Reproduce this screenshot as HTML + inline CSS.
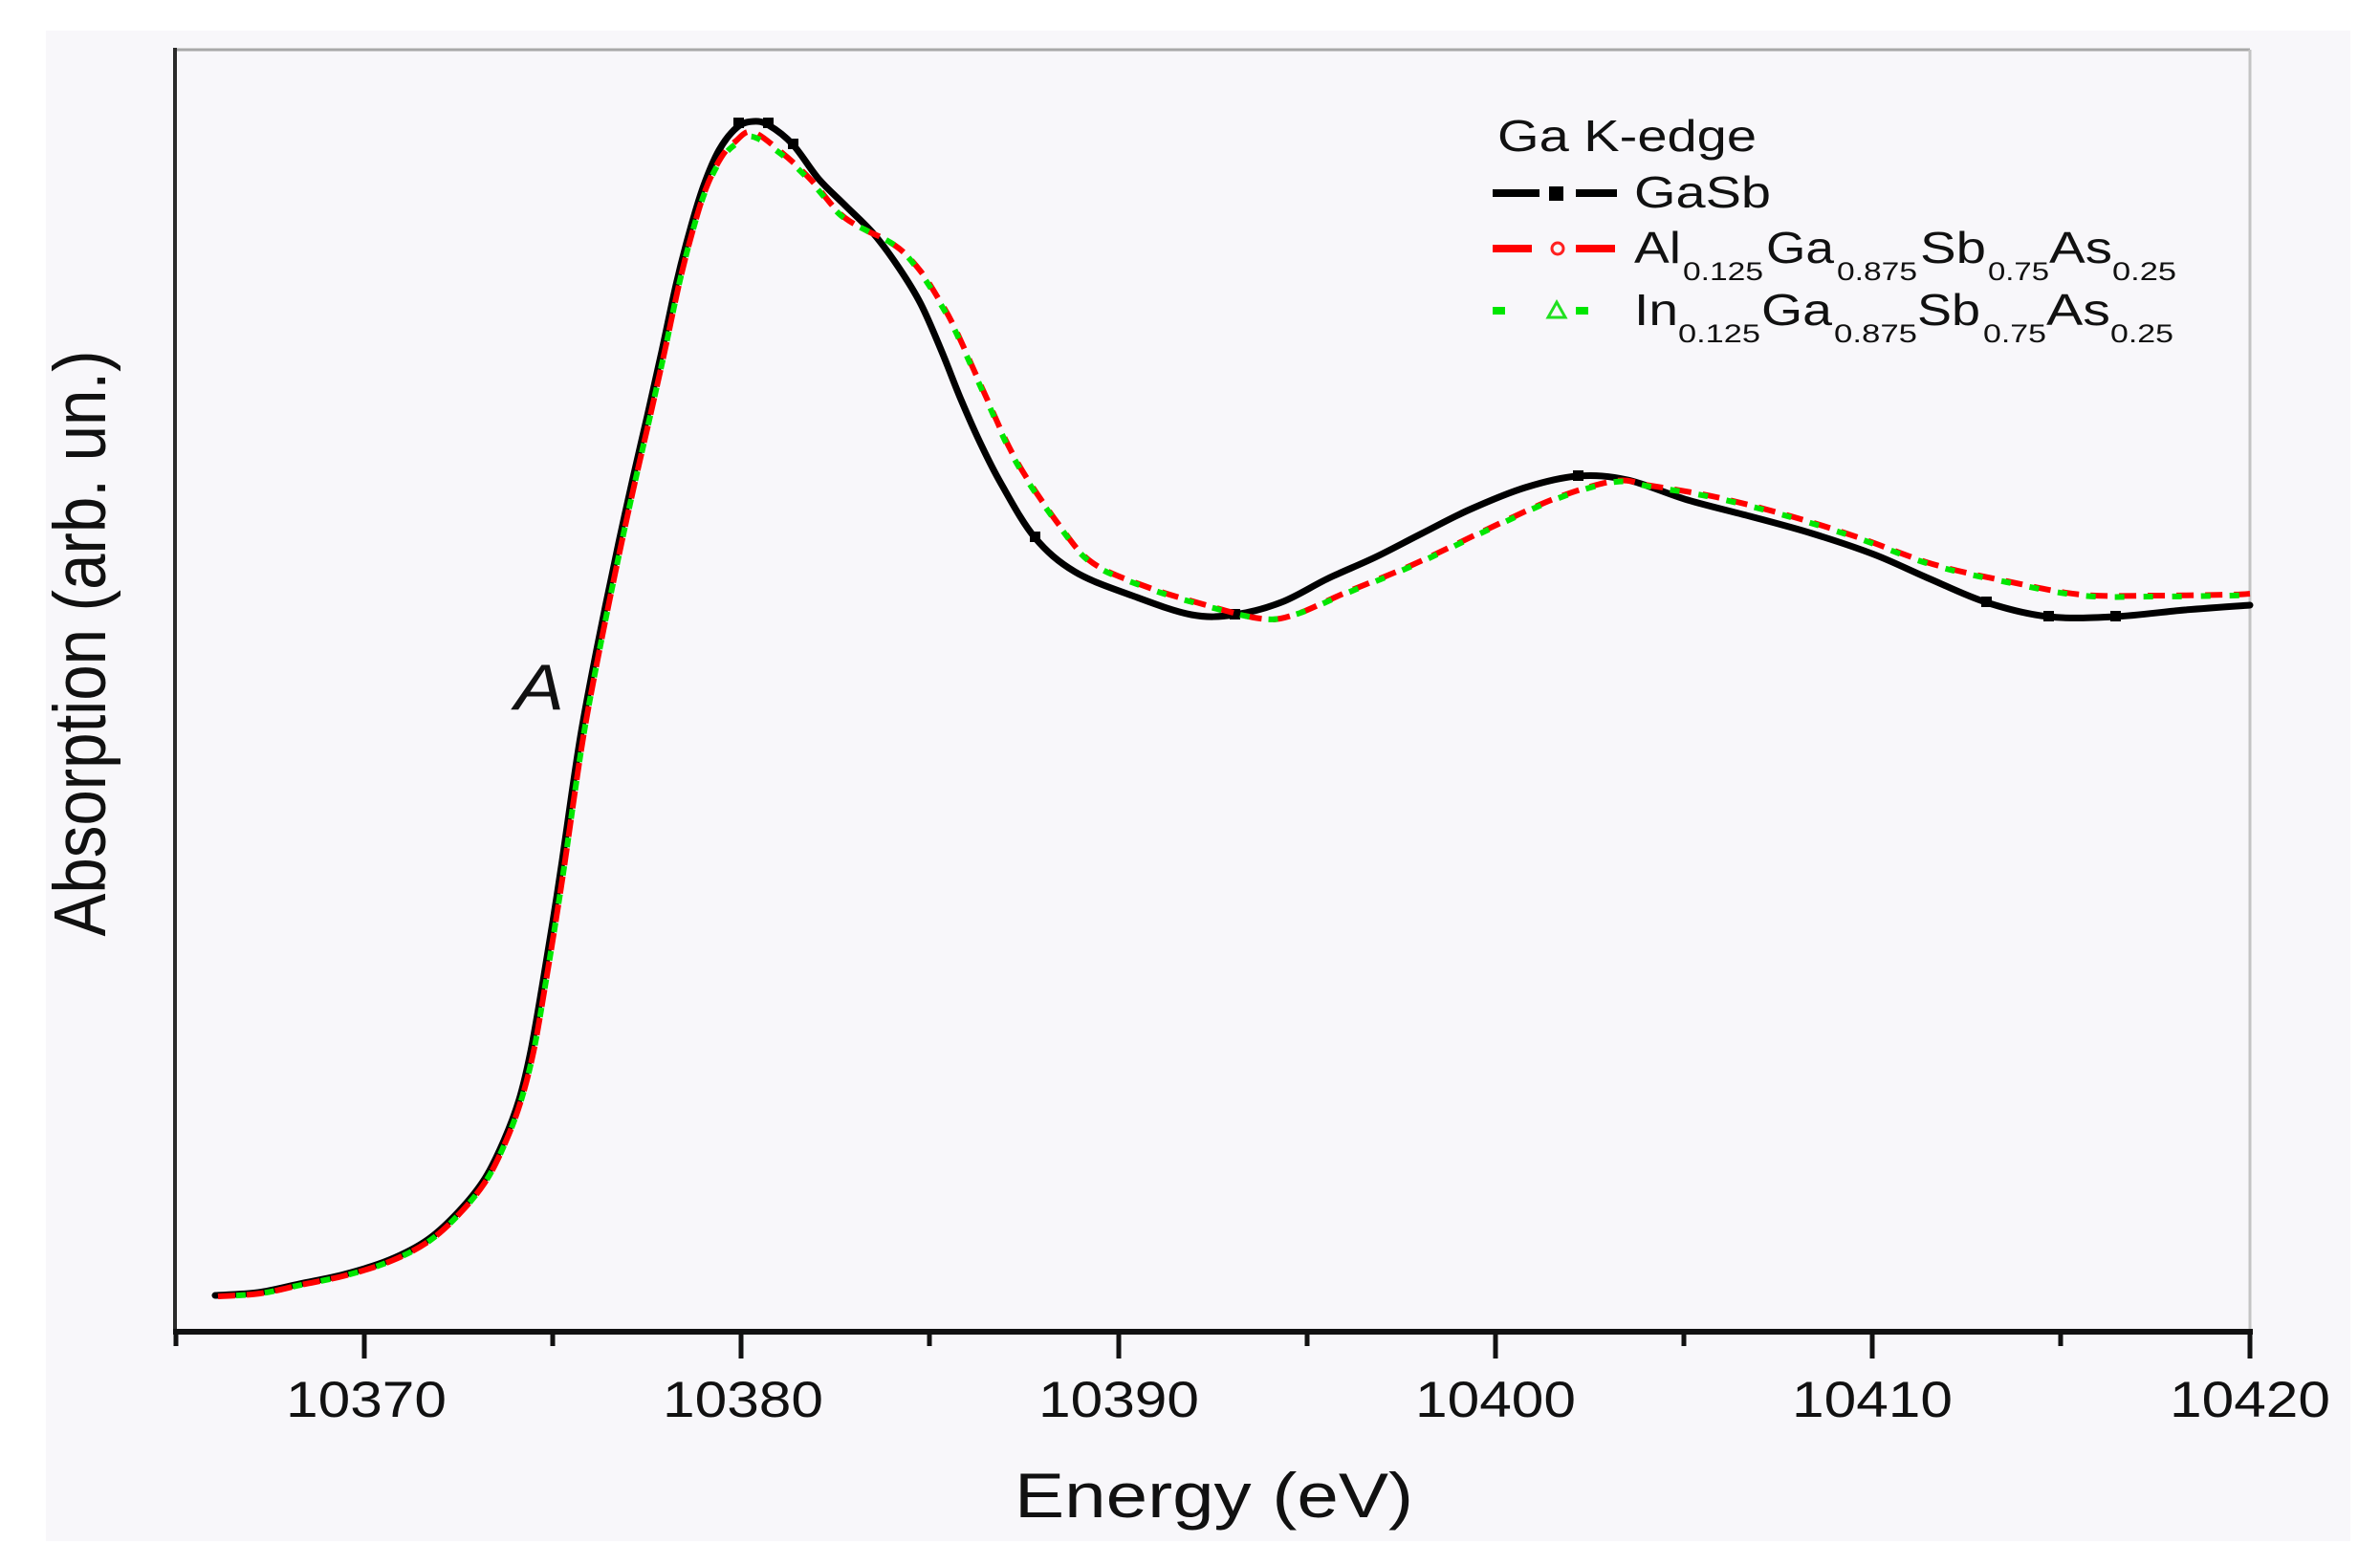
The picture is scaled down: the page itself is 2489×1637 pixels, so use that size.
<!DOCTYPE html>
<html>
<head>
<meta charset="utf-8">
<style>
  html, body { margin: 0; padding: 0; background: #ffffff; }
  body { width: 2489px; height: 1637px; overflow: hidden; }
  svg { display: block; }
  text { font-family: "Liberation Sans", Arial, sans-serif; fill: #111; }
</style>
</head>
<body>
<svg id="chart" width="2489" height="1637" viewBox="0 0 2489 1637" xmlns="http://www.w3.org/2000/svg">
  <rect x="0" y="0" width="2489" height="1637" fill="#ffffff"/>
  <rect x="48" y="32" width="2410" height="1580" fill="#f8f7fa"/>

  <!-- frame -->
  <line x1="183" y1="52" x2="2353" y2="52" stroke="#a8a8a8" stroke-width="3"/>
  <line x1="2353" y1="52" x2="2353" y2="1393" stroke="#c4c4c4" stroke-width="3"/>
  <line x1="183" y1="50" x2="183" y2="1396" stroke="#2a2a2a" stroke-width="4"/>
  <line x1="181" y1="1393" x2="2356" y2="1393" stroke="#111" stroke-width="6"/>

  <!-- major ticks -->
  <g stroke="#111" stroke-width="5">
    <line x1="381" y1="1393" x2="381" y2="1421"/>
    <line x1="775" y1="1393" x2="775" y2="1421"/>
    <line x1="1170" y1="1393" x2="1170" y2="1421"/>
    <line x1="1564" y1="1393" x2="1564" y2="1421"/>
    <line x1="1958" y1="1393" x2="1958" y2="1421"/>
    <line x1="2353" y1="1393" x2="2353" y2="1421"/>
  </g>
  <!-- minor ticks -->
  <g stroke="#111" stroke-width="5">
    <line x1="184" y1="1393" x2="184" y2="1408"/>
    <line x1="578" y1="1393" x2="578" y2="1408"/>
    <line x1="972" y1="1393" x2="972" y2="1408"/>
    <line x1="1367" y1="1393" x2="1367" y2="1408"/>
    <line x1="1761" y1="1393" x2="1761" y2="1408"/>
    <line x1="2155" y1="1393" x2="2155" y2="1408"/>
  </g>

  <!-- tick labels -->
  <g font-size="53" text-anchor="middle">
    <text x="383" y="1482" textLength="168" lengthAdjust="spacingAndGlyphs">10370</text>
    <text x="777" y="1482" textLength="168" lengthAdjust="spacingAndGlyphs">10380</text>
    <text x="1170" y="1482" textLength="168" lengthAdjust="spacingAndGlyphs">10390</text>
    <text x="1564" y="1482" textLength="168" lengthAdjust="spacingAndGlyphs">10400</text>
    <text x="1958" y="1482" textLength="168" lengthAdjust="spacingAndGlyphs">10410</text>
    <text x="2353" y="1482" textLength="168" lengthAdjust="spacingAndGlyphs">10420</text>
  </g>

  <!-- axis titles -->
  <text x="1061" y="1587" font-size="66" textLength="417" lengthAdjust="spacingAndGlyphs">Energy (eV)</text>
  <text transform="translate(110,673) scale(1.17,1) rotate(-90)" x="0" y="0" font-size="66" text-anchor="middle" textLength="613" lengthAdjust="spacingAndGlyphs">Absorption (arb. un.)</text>

  <!-- A label -->
  <text x="538" y="742" font-size="68" font-style="italic" textLength="52" lengthAdjust="spacingAndGlyphs">A</text>

  <!-- GaSb black -->
  <polyline class="smooth" fill="none" stroke="#000" stroke-width="7" stroke-linejoin="round" stroke-linecap="round"
    points="225,1355 270,1352 313,1343 360,1333 407,1318 447,1297 480,1267 507,1233 527,1193 543,1150 555,1100 567,1032 578,965 588,900 598,830 608,765 620,700 633,635 647,568 662,500 677,435 692,368 707,298 721,243 736,194 752,157 771,133 788,127 804,131 829,151 856,187 883,214 914,245 940,280 963,318 985,368 1005,418 1025,463 1047,506 1082,562 1124,598 1184,623 1246,643 1291,643 1340,630 1389,605 1438,583 1487,558 1537,533 1595,510 1650,498 1702,502 1765,523 1830,540 1895,558 1960,580 2017,605 2077,630 2142,645 2212,645 2285,638 2353,633"/>
  <g fill="#000">
    <rect x="767" y="123" width="11" height="11"/>
    <rect x="798" y="123" width="11" height="11"/>
    <rect x="824" y="145" width="11" height="11"/>
    <rect x="1077" y="556" width="11" height="11"/>
    <rect x="1286" y="637" width="11" height="11"/>
    <rect x="1645" y="492" width="11" height="11"/>
    <rect x="2072" y="624" width="11" height="11"/>
    <rect x="2137" y="639" width="11" height="11"/>
    <rect x="2207" y="639" width="11" height="11"/>
  </g>

  <!-- Al red -->
  <polyline class="smooth" fill="none" stroke="#ff0000" stroke-width="6" stroke-dasharray="18 12" stroke-linejoin="round"
    points="228,1356 272,1353 315,1344 362,1334 409,1319 449,1298 482,1268 509,1234 529,1194 545,1151 558,1100 570,1032 581,965 591,900 601,830 611,765 623,700 636,635 650,568 665,500 680,435 695,368 710,298 724,243 738,198 754,165 769,148 787,138 818,160 848,188 879,224 906,241 925,250 944,263 963,284 980,310 998,342 1028,408 1063,482 1109,551 1143,589 1197,613 1251,630 1318,647 1354,643 1407,620 1479,590 1563,550 1630,520 1690,503 1726,508 1795,520 1873,540 1943,562 2021,590 2099,608 2177,622 2255,623 2333,622 2353,621"/>

  <!-- In green -->
  <polyline class="smooth" fill="none" stroke="#00e600" stroke-width="6" stroke-dasharray="10 20" stroke-dashoffset="-19" stroke-linejoin="round"
    points="228,1356 272,1353 315,1344 362,1334 409,1319 449,1298 482,1268 509,1234 529,1194 545,1151 558,1100 570,1032 581,965 591,900 601,830 611,765 623,700 636,635 650,568 665,500 680,435 695,368 710,298 724,243 738,199 754,167 769,151 787,143 818,162 848,190 879,225 906,241 925,250 944,263 963,286 980,312 998,344 1028,410 1063,484 1109,552 1143,590 1197,614 1251,631 1318,647 1354,643 1407,621 1479,591 1563,551 1630,521 1690,504 1726,509 1795,521 1873,541 1943,563 2021,591 2099,609 2177,623 2255,624 2333,623 2353,622"/>

  <!-- legend -->
  <text x="1566" y="158" font-size="46" textLength="271" lengthAdjust="spacingAndGlyphs">Ga K-edge</text>

  <line x1="1561" y1="202" x2="1610" y2="202" stroke="#000" stroke-width="8"/>
  <rect x="1620" y="195" width="15" height="15" fill="#000"/>
  <line x1="1648" y1="202" x2="1691" y2="202" stroke="#000" stroke-width="8"/>
  <text x="1709" y="217" font-size="46" textLength="143" lengthAdjust="spacingAndGlyphs">GaSb</text>

  <line x1="1561" y1="260" x2="1602" y2="260" stroke="#ff0000" stroke-width="8"/>
  <circle cx="1629" cy="260" r="6" fill="none" stroke="#ff2020" stroke-width="3"/>
  <line x1="1648" y1="260" x2="1689" y2="260" stroke="#ff0000" stroke-width="8"/>
  <g font-size="46">
    <text x="1709" y="275" textLength="49" lengthAdjust="spacingAndGlyphs">Al</text>
    <text x="1847" y="275" textLength="71" lengthAdjust="spacingAndGlyphs">Ga</text>
    <text x="2008" y="275" textLength="69" lengthAdjust="spacingAndGlyphs">Sb</text>
    <text x="2143" y="275" textLength="66" lengthAdjust="spacingAndGlyphs">As</text>
  </g>
  <g font-size="27">
    <text x="1760" y="293" textLength="84" lengthAdjust="spacingAndGlyphs">0.125</text>
    <text x="1921" y="293" textLength="84" lengthAdjust="spacingAndGlyphs">0.875</text>
    <text x="2079" y="293" textLength="64" lengthAdjust="spacingAndGlyphs">0.75</text>
    <text x="2209" y="293" textLength="67" lengthAdjust="spacingAndGlyphs">0.25</text>
  </g>

  <line x1="1561" y1="325" x2="1574" y2="325" stroke="#00e600" stroke-width="8"/>
  <polygon points="1628,316 1637,332 1619,332" fill="none" stroke="#20e020" stroke-width="3"/>
  <line x1="1648" y1="325" x2="1661" y2="325" stroke="#00e600" stroke-width="8"/>
  <g font-size="46">
    <text x="1709" y="340" textLength="46" lengthAdjust="spacingAndGlyphs">In</text>
    <text x="1842" y="340" textLength="74" lengthAdjust="spacingAndGlyphs">Ga</text>
    <text x="2005" y="340" textLength="66" lengthAdjust="spacingAndGlyphs">Sb</text>
    <text x="2140" y="340" textLength="67" lengthAdjust="spacingAndGlyphs">As</text>
  </g>
  <g font-size="27">
    <text x="1755" y="358" textLength="86" lengthAdjust="spacingAndGlyphs">0.125</text>
    <text x="1918" y="358" textLength="87" lengthAdjust="spacingAndGlyphs">0.875</text>
    <text x="2074" y="358" textLength="66" lengthAdjust="spacingAndGlyphs">0.75</text>
    <text x="2207" y="358" textLength="66" lengthAdjust="spacingAndGlyphs">0.25</text>
  </g>
</svg>
<script>
(function(){
  var NS = "http://www.w3.org/2000/svg";
  var lines = document.querySelectorAll("polyline.smooth");
  for (var i = 0; i < lines.length; i++) {
    var pl = lines[i];
    var raw = pl.getAttribute("points").trim().split(/\s+/);
    var p = [];
    for (var j = 0; j < raw.length; j++) {
      var xy = raw[j].split(",");
      p.push([parseFloat(xy[0]), parseFloat(xy[1])]);
    }
    if (p.length < 3) continue;
    var d = "M" + p[0][0] + "," + p[0][1];
    var t = 0.5;
    for (var k = 0; k < p.length - 1; k++) {
      var p0 = p[k > 0 ? k - 1 : 0], p1 = p[k], p2 = p[k + 1], p3 = p[k + 2 < p.length ? k + 2 : p.length - 1];
      var c1x = p1[0] + (p2[0] - p0[0]) * t / 3, c1y = p1[1] + (p2[1] - p0[1]) * t / 3;
      var c2x = p2[0] - (p3[0] - p1[0]) * t / 3, c2y = p2[1] - (p3[1] - p1[1]) * t / 3;
      d += " C" + c1x.toFixed(1) + "," + c1y.toFixed(1) + " " + c2x.toFixed(1) + "," + c2y.toFixed(1) + " " + p2[0] + "," + p2[1];
    }
    var path = document.createElementNS(NS, "path");
    var attrs = ["fill","stroke","stroke-width","stroke-dasharray","stroke-dashoffset","stroke-linejoin","stroke-linecap"];
    for (var a = 0; a < attrs.length; a++) {
      var v = pl.getAttribute(attrs[a]);
      if (v !== null) path.setAttribute(attrs[a], v);
    }
    path.setAttribute("d", d);
    pl.parentNode.replaceChild(path, pl);
  }
})();
</script>
</body>
</html>
